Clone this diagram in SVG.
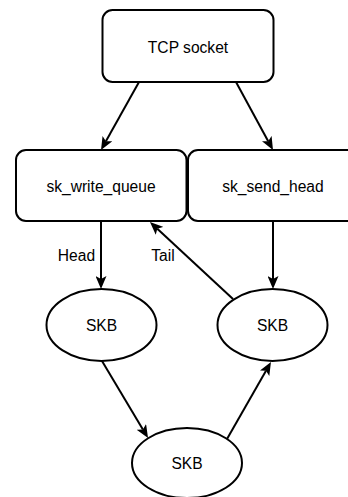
<svg xmlns="http://www.w3.org/2000/svg" width="348" height="497" viewBox="0 0 348 497">
  <style>
    .shape { fill: #ffffff; stroke: #000000; stroke-width: 2; }
    .label { font-family: "Liberation Sans", Arial, sans-serif; font-size: 15.6px; fill: #000000; text-anchor: middle; }
    .edge { fill: none; stroke: #000000; stroke-width: 2; marker-end: url(#arrow); }
  </style>
  <defs>
    <marker id="arrow" markerUnits="userSpaceOnUse" markerWidth="14" markerHeight="11" viewBox="0 0 14 11" refX="3" refY="5.5" orient="auto">
      <path d="M0,0 L13,5.5 L0,11 L3,5.5 Z" fill="#000000"/>
    </marker>
  </defs>
  <rect width="348" height="497" fill="#ffffff"/>

  <g id="connectors">
    <line class="edge" x1="139" y1="82" x2="105.9" y2="141.3"/>
    <line class="edge" x1="236" y1="82" x2="268.2" y2="141.2"/>
    <line class="edge" x1="101" y1="221" x2="101" y2="279"/>
    <line class="edge" x1="273" y1="221" x2="273" y2="279"/>
    <line class="edge" x1="102" y1="361" x2="142.9" y2="429.4"/>
    <line class="edge" x1="227" y1="439" x2="266" y2="370.7"/>
    <line class="edge" x1="233" y1="299" x2="157.3" y2="228.8"/>
    <text class="label" x="76.5" y="261">Head</text>
    <text class="label" x="163" y="261">Tail</text>
  </g>

  <g id="tcp-socket">
    <rect class="shape" x="102.5" y="10" width="171" height="72" rx="10" ry="10"/>
    <text class="label" x="188" y="52.5">TCP socket</text>
  </g>

  <g id="sk-write-queue">
    <rect class="shape" x="16" y="150" width="170.5" height="71" rx="10" ry="10"/>
    <text class="label" x="101" y="191.5">sk_write_queue</text>
  </g>

  <g id="sk-send-head">
    <rect class="shape" x="188" y="150" width="171" height="71" rx="10" ry="10"/>
    <text class="label" x="273" y="191.5">sk_send_head</text>
  </g>

  <g id="skb-left">
    <ellipse class="shape" cx="101.5" cy="325" rx="55" ry="36"/>
    <text class="label" x="101.5" y="330.6">SKB</text>
  </g>

  <g id="skb-right">
    <ellipse class="shape" cx="272.5" cy="325" rx="55" ry="36"/>
    <text class="label" x="272.5" y="330.6">SKB</text>
  </g>

  <g id="skb-bottom">
    <ellipse class="shape" cx="187" cy="463" rx="55" ry="35"/>
    <text class="label" x="187" y="469">SKB</text>
  </g>
</svg>
